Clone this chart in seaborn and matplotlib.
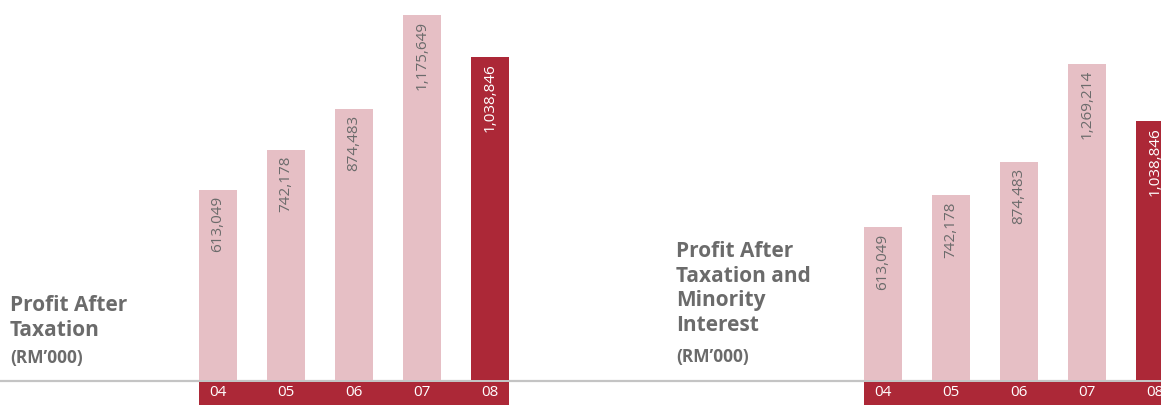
import matplotlib
matplotlib.use("Agg")
import matplotlib.pyplot as plt
import seaborn as sns

# data
years = ["04", "05", "06", "07", "08"]
pat_values = [613049, 742178, 874483, 1175649, 1038846]
patmi_values = [613049, 742178, 874483, 1269214, 1038846]
pat_title = "Profit After\nTaxation"
patmi_title = "Profit After\nTaxation and\nMinority\nInterest"
unit_label = "(RM\u2019000)"

LIGHT = "#e6bfc5"
DARK = "#ac2837"
GREY_TXT = "#6b6b6b"
W, H = 1161, 405

sns.set_style("white")
plt.rcParams["font.family"] = ["Open Sans", "DejaVu Sans"]

fig = plt.figure(figsize=(W / 100, H / 100), dpi=100)

# background axes for the long grey baseline
bg = fig.add_axes([0, 0, 1, 1])
bg.set_xlim(0, W)
bg.set_ylim(H, 0)
bg.axis("off")
bg.axhline(380.5, color="#c4c4c4", lw=1.6, zorder=0)


def draw_panel(left_px, values, top_px, title, title_x, title_top):
    ax = fig.add_axes([left_px / W, 0, 340 / W, 1])
    ax.patch.set_alpha(0)
    k = (380 - top_px) / max(values)  # pixels per unit
    colors = [LIGHT] * 4 + [DARK]
    bw = 38 / 68
    sns.barplot(x=years, y=values, hue=years, palette=colors, legend=False,
                width=bw, saturation=1, linewidth=0, ax=ax, zorder=2)
    ax.set_xlim(-0.5, 4.5)
    ax.set_ylim(-25 / k, 380 / k)
    ax.axis("off")
    # red band under the bars with year labels
    ax.fill_between([-bw / 2, len(years) - 1 + bw / 2], -25 / k, -1.5 / k,
                    color=DARK, lw=0, zorder=3)
    for i, (yr, v) in enumerate(zip(years, values)):
        ax.text(i, -13 / k, yr, color="white", fontsize=11,
                ha="center", va="center", zorder=4)
        ax.text(i, v - 6 / k, f"{v:,}", rotation=90, ha="center", va="top",
                fontsize=11, color="white" if i == len(years) - 1 else GREY_TXT,
                zorder=4)
    bg.text(title_x, title_top, title, fontsize=15, fontweight="bold",
            color=GREY_TXT, ha="left", va="top", linespacing=1.22)
    n_lines = title.count("\n") + 1
    bg.text(title_x, title_top + n_lines * 26.5 + 1, unit_label, fontsize=12.5,
            fontweight="bold", color=GREY_TXT, ha="left", va="top")
    return ax


draw_panel(184, pat_values, 15, pat_title, 10, 295)
draw_panel(849, patmi_values, 64, patmi_title, 676, 241)

fig.savefig("out.png", dpi=100)
